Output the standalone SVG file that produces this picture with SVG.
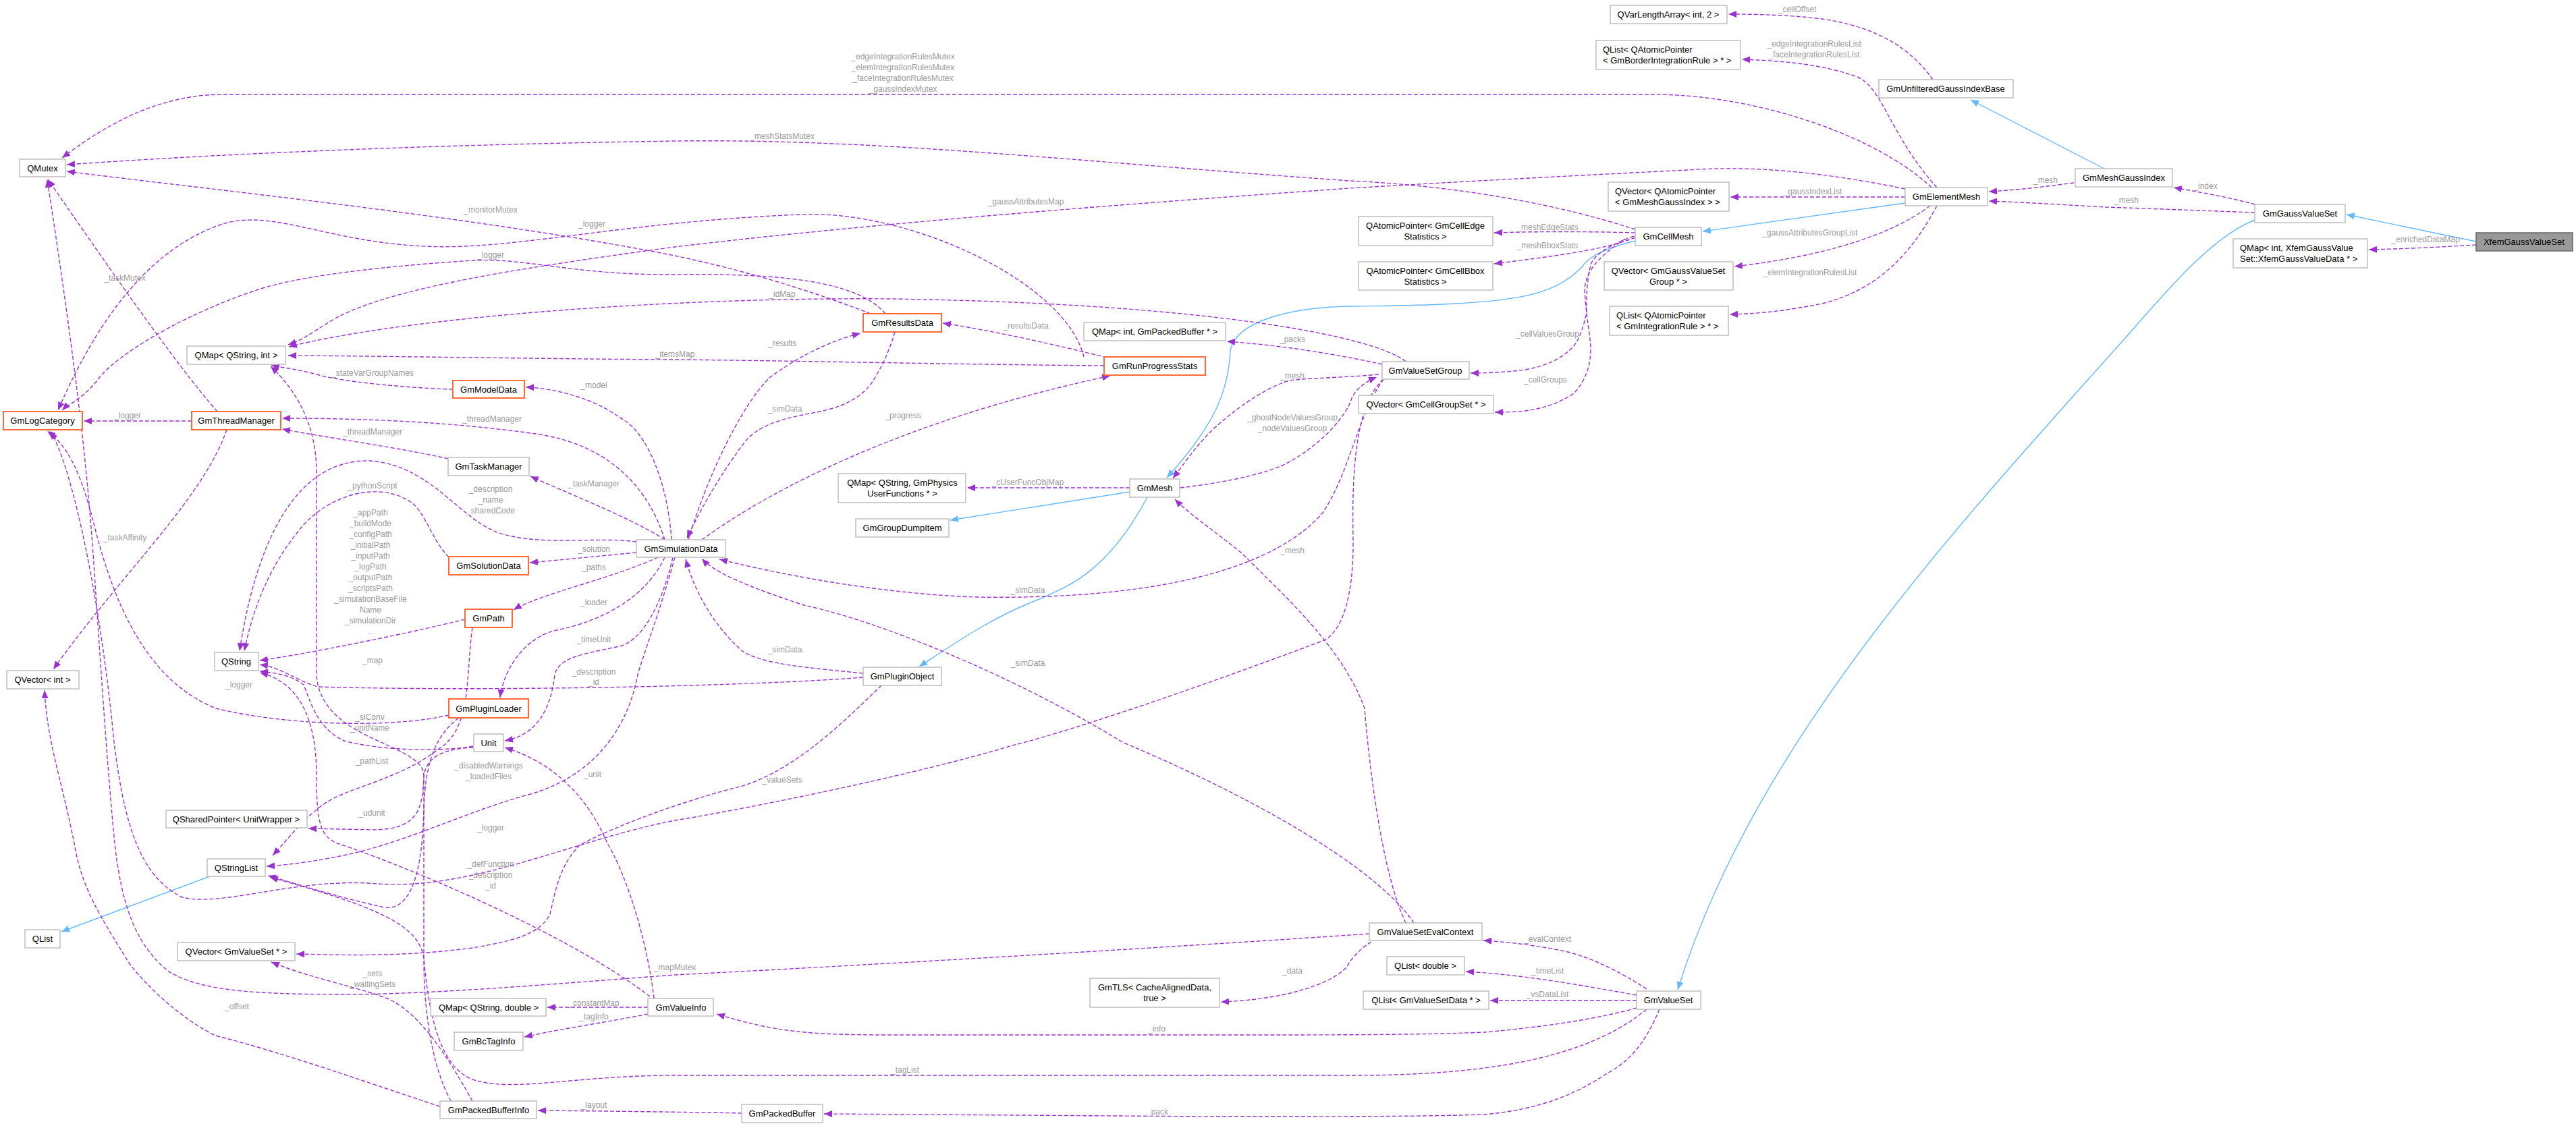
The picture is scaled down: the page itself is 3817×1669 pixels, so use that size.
<svg xmlns="http://www.w3.org/2000/svg" width="3817" height="1669" viewBox="0 0 3817 1669">
<defs>
<style>
.n rect{fill:#fff;stroke:#bfbfbf;stroke-width:1.5}
.n.r rect{stroke:#ff6a3c;stroke-width:2}
.n.cur rect{fill:#999;stroke:#666}
.n text{font-family:"Liberation Sans",Arial,sans-serif;font-size:13px;fill:#000;text-anchor:middle}
.n text.l{text-anchor:start}
.e path{fill:none;stroke:#9a32cd;stroke-width:1.4;stroke-dasharray:6,3;marker-end:url(#ap)}
.e path.i{stroke:#63b8ff;stroke-dasharray:none;marker-end:url(#ab)}
.lb text{font-family:"Liberation Sans",Arial,sans-serif;font-size:12px;fill:#9a9a9a;text-anchor:middle}
</style>
<marker id="ap" viewBox="0 0 12 10" refX="12" refY="5" markerWidth="12" markerHeight="10" markerUnits="userSpaceOnUse" orient="auto"><path d="M0,0 L12,5 L0,10 z" fill="#9a32cd"/></marker>
<marker id="ab" viewBox="0 0 12 10" refX="12" refY="5" markerWidth="12" markerHeight="10" markerUnits="userSpaceOnUse" orient="auto"><path d="M0,0 L12,5 L0,10 z" fill="#63b8ff"/></marker>
</defs>
<rect width="3817" height="1669" fill="#fff"/>
<g id="edges" class="e">
<path class="i" d="M3669,358 L3477,318"/>
<path class="i" d="M3341,326 C3280,350 3220,420 3150,500 C2900,780 2600,1100 2486,1467"/>
<path class="i" d="M3118,250 L2920,148"/>
<path class="i" d="M2823,301 L2523,343"/>
<path class="i" d="M2423,357 C2370,370 2350,385 2345,395 C2300,440 2250,452 2000,454 C1900,456 1830,480 1823,520 C1820,580 1800,630 1729,708"/>
<path class="i" d="M1674,729 L1408,771"/>
<path class="i" d="M1700,737 C1640,850 1580,870 1540,888 C1470,915 1420,950 1362,988"/>
<path class="i" d="M311,1299 L91,1381"/>
<path d="M2864,118 C2830,70 2780,40 2700,28 C2650,22 2600,21 2561,21"/>
<path d="M2870,278 C2800,200 2790,130 2752,114 C2700,95 2640,90 2581,88"/>
<path d="M2862,278 C2780,200 2600,140 2450,140 L330,140 C230,140 150,190 92,234"/>
<path d="M2423,340 C2300,300 2150,275 2000,268 C1600,240 1300,205 1000,209 C600,215 300,230 99,244"/>
<path d="M2823,280 C2700,255 2600,245 2500,252 C2300,262 2150,270 2000,279 C1700,300 1300,330 1000,366 C750,400 560,430 485,479 C460,495 445,505 427,511"/>
<path d="M1290,465 C1200,430 1100,400 1000,379 C700,320 300,280 99,254"/>
<path d="M1606,529 C1580,420 1350,310 1185,318 C900,330 750,375 612,364 C480,355 400,310 330,332 C230,365 150,460 86,608"/>
<path d="M1312,465 C1270,415 1150,405 1000,407 C850,408 780,382 702,386 C560,395 440,410 383,429 C260,470 170,530 147,560 C125,590 100,600 92,608"/>
<path d="M2083,536 C2040,500 1800,450 1320,443 C1000,440 600,470 428,514"/>
<path d="M1636,542 C1400,540 1200,535 1000,533 C800,532 600,528 427,527"/>
<path d="M671,577 C600,575 500,565 470,555 C430,545 415,545 402,541"/>
<path d="M995,800 C990,720 960,640 920,620 C880,590 820,575 779,574"/>
<path d="M985,800 C960,720 900,660 800,644 C650,622 500,620 418,620"/>
<path d="M664,680 C600,665 480,648 418,636"/>
<path d="M284,624 L124,624"/>
<path d="M322,610 C260,540 150,380 71,266"/>
<path d="M336,637 C300,740 180,850 79,992"/>
<path d="M985,800 C940,770 850,735 786,706"/>
<path d="M943,803 C880,795 800,810 740,790 C680,770 640,690 548,683 C440,680 380,800 355,965"/>
<path d="M665,826 C640,800 630,760 610,745 C560,710 480,735 440,790 C400,840 375,900 362,965"/>
<path d="M689,918 C600,940 450,970 385,979"/>
<path d="M975,826 C900,860 800,880 761,904"/>
<path d="M943,819 C880,825 830,830 785,834"/>
<path d="M985,826 C960,880 900,920 820,935 C770,950 745,1000 741,1034"/>
<path d="M997,826 C980,900 950,950 918,958 C860,970 828,975 822,1000 C815,1060 790,1090 748,1098"/>
<path d="M969,1480 C960,1400 930,1300 900,1250 C870,1180 820,1130 748,1108"/>
<path d="M701,1106 C650,1115 560,1112 510,1098 C470,1080 460,1040 450,1015 C430,1000 410,998 385,995"/>
<path d="M665,1060 C580,1080 420,1075 320,1050 C220,1010 170,900 140,780 C120,700 100,660 70,639"/>
<path d="M1279,1004 C1100,1018 700,1025 472,1018 C440,1010 420,990 385,985"/>
<path d="M1279,998 C1200,990 1130,985 1100,965 C1060,930 1030,880 1016,829"/>
<path d="M1326,492 C1315,530 1300,555 1290,570 C1270,595 1240,605 1210,611 C1160,620 1120,630 1100,660 C1070,700 1040,750 1018,798"/>
<path d="M1020,800 C1050,700 1100,600 1140,560 C1180,530 1230,505 1275,494"/>
<path d="M1040,800 C1150,720 1350,620 1645,557"/>
<path d="M1640,530 C1560,510 1470,490 1397,479"/>
<path d="M1674,723 L1433,723"/>
<path d="M2048,540 C1980,525 1900,512 1818,506"/>
<path d="M2043,555 C1990,560 1940,560 1910,564 C1860,580 1808,627 1808,627 C1780,650 1760,680 1738,709"/>
<path d="M1749,723 C1800,717 1859,707 1900,690 C1960,660 1997,613 2003,590 C2010,575 2025,565 2040,559"/>
<path d="M2083,1368 C2050,1300 2030,1150 2022,1050 C1990,960 1900,880 1839,819 C1790,780 1760,760 1741,740"/>
<path d="M2095,1368 C2050,1300 1900,1200 1663,1100 C1500,1000 1300,920 1191,897 C1110,870 1060,850 1040,828"/>
<path d="M2050,562 C2010,620 2000,700 1960,760 C1900,830 1750,890 1446,885 C1300,880 1150,850 1066,829"/>
<path d="M2050,562 C2008,600 2003,700 2005,800 C2006,880 1990,940 1957,951 C1800,1010 1600,1080 1500,1105 C1350,1150 1100,1200 1000,1216 C850,1245 700,1320 560,1310 C440,1300 330,1345 270,1330 C210,1300 185,1230 169,1100 C150,900 110,700 75,639"/>
<path d="M1306,1016 C1250,1070 1180,1140 1100,1165 C1000,1190 900,1230 860,1252 C830,1280 823,1320 815,1355 C800,1385 760,1395 700,1405 C600,1418 520,1416 439,1414"/>
<path d="M1000,826 C980,900 950,980 945,1000 C930,1080 880,1150 786,1177 C700,1200 620,1240 531,1263 C480,1275 430,1282 395,1284"/>
<path d="M700,930 C690,1000 700,1080 650,1110 C600,1150 530,1165 495,1183 C460,1200 430,1240 404,1268"/>
<path d="M701,1108 C660,1110 632,1120 628,1150 C626,1200 620,1228 556,1230 L457,1228"/>
<path d="M680,1064 C645,1090 630,1130 628,1200 C626,1290 610,1350 570,1345 C500,1330 440,1310 397,1298"/>
<path d="M2440,1496 C2350,1570 2200,1594 2000,1594 L1000,1594 C850,1594 760,1620 700,1600 C650,1580 635,1500 628,1420 C620,1370 560,1345 400,1300"/>
<path d="M668,1632 C640,1580 628,1500 628,1420 L628,1150 C628,1100 475,1100 469,1000 L469,700 C469,620 430,570 401,543"/>
<path d="M963,1477 C850,1390 620,1290 500,1250 C475,1240 469,1220 469,1150 C469,1060 440,1010 385,997"/>
<path d="M700,1632 C660,1560 620,1500 574,1480 C520,1460 460,1450 402,1426"/>
<path d="M652,1640 C560,1610 420,1560 319,1535 C250,1500 200,1440 191,1427 C150,1360 121,1318 110,1250 C90,1150 70,1100 66,1023"/>
<path d="M2029,1384 C1800,1400 1300,1430 1000,1445 C800,1460 640,1474 500,1474 C380,1473 300,1470 250,1440 C200,1400 180,1340 170,1250 C160,1150 150,1000 140,850 C130,700 115,560 70,266"/>
<path d="M960,1493 L811,1493"/>
<path d="M960,1503 C900,1515 830,1525 777,1537"/>
<path d="M2425,1494 C2350,1515 2255,1525 2200,1530 C2100,1534 2000,1534 1800,1534 L1319,1534 C1200,1534 1150,1530 1062,1503"/>
<path d="M2459,1496 C2440,1540 2420,1570 2383,1590 C2330,1625 2280,1644 2200,1652 C2100,1655 2000,1655 1800,1655 L1221,1651"/>
<path d="M1099,1650 C1000,1648 900,1647 797,1646"/>
<path d="M2440,1466 C2400,1440 2360,1420 2319,1410 C2270,1400 2230,1396 2198,1394"/>
<path d="M2425,1475 C2340,1460 2260,1445 2172,1440"/>
<path d="M2425,1483 L2208,1483"/>
<path d="M2032,1396 C2010,1410 2000,1425 1995,1434 C1970,1460 1900,1482 1809,1485"/>
<path d="M3073,271 C3040,275 3010,280 2947,284"/>
<path d="M3342,303 C3300,292 3260,285 3221,278"/>
<path d="M3341,315 C3260,312 3180,309 3120,307 C3050,303 3000,300 2947,298"/>
<path d="M3669,363 C3620,366 3560,369 3510,370"/>
<path d="M2823,292 L2564,292"/>
<path d="M2423,345 C2350,343 2280,343 2214,345"/>
<path d="M2423,352 C2380,370 2300,380 2214,391"/>
<path d="M2860,305 C2800,350 2700,380 2570,395"/>
<path d="M2870,305 C2830,380 2780,430 2700,450 C2650,460 2610,465 2563,466"/>
<path d="M2421,350 C2380,365 2360,380 2357,393 C2350,420 2351,450 2351,464 C2345,490 2338,507 2330,515 C2310,535 2287,543 2260,548 C2230,552 2200,553 2179,553"/>
<path d="M2408,354 C2370,380 2350,400 2348,429 C2350,470 2357,500 2357,518 C2357,547 2345,570 2332,583 C2310,598 2287,605 2260,609 C2240,611 2230,611 2215,611"/>
</g>
<g id="labels" class="lb">
<text x="1338" y="88">_edgeIntegrationRulesMutex</text>
<text x="1338" y="104">_elemIntegrationRulesMutex</text>
<text x="1338" y="120">_faceIntegrationRulesMutex</text>
<text x="1338" y="136">_gaussIndexMutex</text>
<text x="1159" y="206">_meshStatsMutex</text>
<text x="1520" y="303">_gaussAttributesMap</text>
<text x="727" y="315">_monitorMutex</text>
<text x="877" y="336">_logger</text>
<text x="727" y="382">_logger</text>
<text x="185" y="416">_taskMutex</text>
<text x="1159" y="440">_idMap</text>
<text x="1520" y="487">_resultsData</text>
<text x="1159" y="513">_results</text>
<text x="1000" y="529">_itemsMap</text>
<text x="1915" y="507">_packs</text>
<text x="552" y="557">_stateVarGroupNames</text>
<text x="880" y="575">_model</text>
<text x="1915" y="561">_mesh</text>
<text x="1163" y="610">_simData</text>
<text x="1338" y="620">_progress</text>
<text x="189" y="620">_logger</text>
<text x="729" y="625">_threadManager</text>
<text x="1915" y="623">_ghostNodeValuesGroup</text>
<text x="1915" y="639">_nodeValuesGroup</text>
<text x="552" y="644">_threadManager</text>
<text x="1523" y="719">_cUserFuncObjMap</text>
<text x="880" y="721">_taskManager</text>
<text x="552" y="724">_pythonScript</text>
<text x="727" y="729">_description</text>
<text x="727" y="745">_name</text>
<text x="727" y="761">_sharedCode</text>
<text x="549" y="764">_appPath</text>
<text x="549" y="780">_buildMode</text>
<text x="549" y="796">_configPath</text>
<text x="549" y="812">_initialPath</text>
<text x="549" y="828">_inputPath</text>
<text x="549" y="844">_logPath</text>
<text x="549" y="860">_outputPath</text>
<text x="549" y="876">_scriptsPath</text>
<text x="549" y="892">_simulationBaseFile</text>
<text x="549" y="908">Name</text>
<text x="549" y="924">_simulationDir</text>
<text x="549" y="940">...</text>
<text x="185" y="801">_taskAffinity</text>
<text x="880" y="818">_solution</text>
<text x="1915" y="820">_mesh</text>
<text x="880" y="845">_paths</text>
<text x="1523" y="879">_simData</text>
<text x="880" y="897">_loader</text>
<text x="880" y="952">_timeUnit</text>
<text x="1163" y="967">_simData</text>
<text x="552" y="983">_map</text>
<text x="1523" y="987">_simData</text>
<text x="880" y="1000">_description</text>
<text x="880" y="1015">_id</text>
<text x="354" y="1019">_logger</text>
<text x="548" y="1067">_siConv</text>
<text x="548" y="1083">_unitName</text>
<text x="551" y="1132">_pathList</text>
<text x="724" y="1139">_disabledWarnings</text>
<text x="724" y="1155">_loadedFiles</text>
<text x="878" y="1152">_unit</text>
<text x="1159" y="1160">_valueSets</text>
<text x="551" y="1209">_udunit</text>
<text x="727" y="1231">_logger</text>
<text x="727" y="1285">_defFunction</text>
<text x="727" y="1301">_description</text>
<text x="727" y="1317">_id</text>
<text x="2293" y="1396">_evalContext</text>
<text x="1000" y="1438">_mapMutex</text>
<text x="1915" y="1443">_data</text>
<text x="2293" y="1443">_timeList</text>
<text x="552" y="1447">_sets</text>
<text x="552" y="1463">_waitingSets</text>
<text x="2293" y="1478">_vsDataList</text>
<text x="880" y="1491">_constantMap</text>
<text x="351" y="1496">_offset</text>
<text x="880" y="1511">_tagInfo</text>
<text x="1714" y="1529">_info</text>
<text x="1341" y="1590">_tagList</text>
<text x="880" y="1642">_layout</text>
<text x="1715" y="1652">_pack</text>
<text x="2663" y="18">_cellOffset</text>
<text x="2688" y="69">_edgeIntegrationRulesList</text>
<text x="2688" y="85">_faceIntegrationRulesList</text>
<text x="2686" y="288">_gaussIndexList</text>
<text x="2293" y="341">_meshEdgeStats</text>
<text x="2682" y="349">_gaussAttributesGroupList</text>
<text x="2293" y="368">_meshBboxStats</text>
<text x="2682" y="408">_elemIntegrationRulesList</text>
<text x="2293" y="499">_cellValuesGroup</text>
<text x="2290" y="567">_cellGroups</text>
<text x="3031" y="271">_mesh</text>
<text x="3268" y="280">_index</text>
<text x="3151" y="301">_mesh</text>
<text x="3594" y="359">_enrichedDataMap</text>
</g>
<g id="n_QMutex" class="n"><rect x="29" y="236" width="68" height="26"/><text x="63" y="254">QMutex</text></g>
<g id="n_QMapSI" class="n"><rect x="277" y="513" width="146" height="27"/><text x="350" y="531">QMap&lt; QString, int &gt;</text></g>
<g id="n_GmLogCategory" class="n r"><rect x="5" y="610" width="117" height="27"/><text x="63" y="628">GmLogCategory</text></g>
<g id="n_GmThreadManager" class="n r"><rect x="284" y="610" width="132" height="27"/><text x="350" y="628">GmThreadManager</text></g>
<g id="n_GmModelData" class="n r"><rect x="671" y="564" width="106" height="26"/><text x="724" y="582">GmModelData</text></g>
<g id="n_GmTaskManager" class="n"><rect x="664" y="678" width="120" height="27"/><text x="724" y="696">GmTaskManager</text></g>
<g id="n_GmSolutionData" class="n r"><rect x="665" y="825" width="118" height="27"/><text x="724" y="843">GmSolutionData</text></g>
<g id="n_GmPath" class="n r"><rect x="689" y="903" width="70" height="27"/><text x="724" y="921">GmPath</text></g>
<g id="n_QString" class="n"><rect x="318" y="967" width="65" height="27"/><text x="350" y="985">QString</text></g>
<g id="n_QVectorInt" class="n"><rect x="10" y="994" width="107" height="27"/><text x="63" y="1012">QVector&lt; int &gt;</text></g>
<g id="n_GmPluginLoader" class="n r"><rect x="665" y="1036" width="118" height="28"/><text x="724" y="1055">GmPluginLoader</text></g>
<g id="n_Unit" class="n"><rect x="702" y="1088" width="44" height="26"/><text x="724" y="1106">Unit</text></g>
<g id="n_GmSimulationData" class="n"><rect x="943" y="800" width="132" height="26"/><text x="1009" y="818">GmSimulationData</text></g>
<g id="n_QSharedPointer" class="n"><rect x="246" y="1201" width="209" height="26"/><text x="350" y="1219">QSharedPointer&lt; UnitWrapper &gt;</text></g>
<g id="n_QStringList" class="n"><rect x="307" y="1273" width="86" height="26"/><text x="350" y="1291">QStringList</text></g>
<g id="n_QList" class="n"><rect x="37" y="1378" width="52" height="27"/><text x="63" y="1396">QList</text></g>
<g id="n_QVectorVS" class="n"><rect x="263" y="1397" width="174" height="27"/><text x="350" y="1415">QVector&lt; GmValueSet * &gt;</text></g>
<g id="n_QMapSD" class="n"><rect x="638" y="1480" width="171" height="26"/><text x="724" y="1498">QMap&lt; QString, double &gt;</text></g>
<g id="n_GmBcTagInfo" class="n"><rect x="673" y="1530" width="102" height="27"/><text x="724" y="1548">GmBcTagInfo</text></g>
<g id="n_GmPackedBufferInfo" class="n"><rect x="652" y="1632" width="143" height="26"/><text x="724" y="1650">GmPackedBufferInfo</text></g>
<g id="n_GmValueInfo" class="n"><rect x="960" y="1480" width="97" height="26"/><text x="1009" y="1498">GmValueInfo</text></g>
<g id="n_GmResultsData" class="n r"><rect x="1279" y="465" width="116" height="27"/><text x="1337" y="483">GmResultsData</text></g>
<g id="n_QMapIPB" class="n"><rect x="1606" y="478" width="210" height="27"/><text x="1711" y="496">QMap&lt; int, GmPackedBuffer * &gt;</text></g>
<g id="n_GmRunProgressStats" class="n r"><rect x="1636" y="529" width="150" height="27"/><text x="1711" y="547">GmRunProgressStats</text></g>
<g id="n_QMapPhys" class="n"><rect x="1242" y="702" width="189" height="43"/><text x="1337" y="720">QMap&lt; QString, GmPhysics</text><text x="1337" y="736">UserFunctions * &gt;</text></g>
<g id="n_GmGroupDumpItem" class="n"><rect x="1268" y="769" width="138" height="27"/><text x="1337" y="787">GmGroupDumpItem</text></g>
<g id="n_GmMesh" class="n"><rect x="1674" y="710" width="74" height="27"/><text x="1711" y="728">GmMesh</text></g>
<g id="n_GmPluginObject" class="n"><rect x="1279" y="989" width="116" height="27"/><text x="1337" y="1007">GmPluginObject</text></g>
<g id="n_GmTLS" class="n"><rect x="1615" y="1450" width="192" height="43"/><text x="1711" y="1468">GmTLS&lt; CacheAlignedData,</text><text x="1711" y="1484">true &gt;</text></g>
<g id="n_GmPackedBuffer" class="n"><rect x="1099" y="1637" width="120" height="27"/><text x="1159" y="1655">GmPackedBuffer</text></g>
<g id="n_QVarLengthArray" class="n"><rect x="2386" y="8" width="173" height="27"/><text x="2472" y="26">QVarLengthArray&lt; int, 2 &gt;</text></g>
<g id="n_QListBorder" class="n"><rect x="2365" y="60" width="214" height="43"/><text class="l" x="2375" y="78">QList&lt; QAtomicPointer</text><text class="l" x="2375" y="94">&lt; GmBorderIntegrationRule &gt; * &gt;</text></g>
<g id="n_GmUnfilteredGaussIndexBase" class="n"><rect x="2784" y="118" width="199" height="27"/><text x="2883" y="136">GmUnfilteredGaussIndexBase</text></g>
<g id="n_QVectorMGI" class="n"><rect x="2383" y="270" width="179" height="43"/><text class="l" x="2393" y="288">QVector&lt; QAtomicPointer</text><text class="l" x="2393" y="304">&lt; GmMeshGaussIndex &gt; &gt;</text></g>
<g id="n_GmElementMesh" class="n"><rect x="2823" y="278" width="122" height="27"/><text x="2884" y="296">GmElementMesh</text></g>
<g id="n_QAPEdge" class="n"><rect x="2013" y="321" width="199" height="43"/><text x="2112" y="339">QAtomicPointer&lt; GmCellEdge</text><text x="2112" y="355">Statistics &gt;</text></g>
<g id="n_GmCellMesh" class="n"><rect x="2423" y="337" width="98" height="27"/><text x="2472" y="355">GmCellMesh</text></g>
<g id="n_QAPBbox" class="n"><rect x="2013" y="388" width="199" height="42"/><text x="2112" y="406">QAtomicPointer&lt; GmCellBbox</text><text x="2112" y="422">Statistics &gt;</text></g>
<g id="n_QVectorGVSG" class="n"><rect x="2377" y="388" width="191" height="42"/><text x="2472" y="406">QVector&lt; GmGaussValueSet</text><text x="2472" y="422">Group * &gt;</text></g>
<g id="n_QListIR" class="n"><rect x="2385" y="454" width="176" height="43"/><text class="l" x="2395" y="472">QList&lt; QAtomicPointer</text><text class="l" x="2395" y="488">&lt; GmIntegrationRule &gt; * &gt;</text></g>
<g id="n_GmValueSetGroup" class="n"><rect x="2048" y="536" width="129" height="26"/><text x="2112" y="554">GmValueSetGroup</text></g>
<g id="n_QVectorCGS" class="n"><rect x="2013" y="586" width="200" height="27"/><text x="2113" y="604">QVector&lt; GmCellGroupSet * &gt;</text></g>
<g id="n_GmValueSetEvalContext" class="n"><rect x="2029" y="1368" width="167" height="26"/><text x="2112" y="1386">GmValueSetEvalContext</text></g>
<g id="n_QListDouble" class="n"><rect x="2055" y="1418" width="115" height="27"/><text x="2112" y="1436">QList&lt; double &gt;</text></g>
<g id="n_QListVSD" class="n"><rect x="2020" y="1469" width="186" height="27"/><text x="2113" y="1487">QList&lt; GmValueSetData * &gt;</text></g>
<g id="n_GmValueSet" class="n"><rect x="2425" y="1469" width="95" height="27"/><text x="2472" y="1487">GmValueSet</text></g>
<g id="n_GmMeshGaussIndex" class="n"><rect x="3075" y="250" width="144" height="27"/><text x="3147" y="268">GmMeshGaussIndex</text></g>
<g id="n_GmGaussValueSet" class="n"><rect x="3341" y="303" width="134" height="27"/><text x="3408" y="321">GmGaussValueSet</text></g>
<g id="n_QMapXfem" class="n"><rect x="3309" y="354" width="199" height="43"/><text class="l" x="3319" y="372">QMap&lt; int, XfemGaussValue</text><text class="l" x="3319" y="388">Set::XfemGaussValueData * &gt;</text></g>
<g id="n_XfemGaussValueSet" class="n cur"><rect x="3669" y="345" width="143" height="27"/><text x="3740" y="363">XfemGaussValueSet</text></g>
</svg>
